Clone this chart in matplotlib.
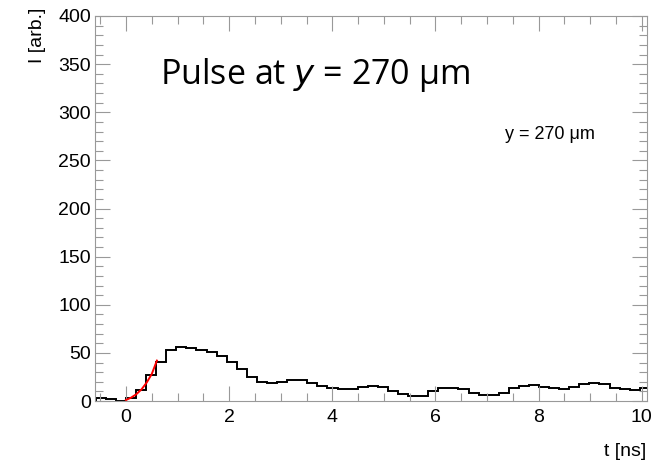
import numpy as np
import matplotlib.pyplot as plt
from matplotlib.ticker import MultipleLocator

# digitizer sample width (ns) and the bin contents
bin_width = 0.1953
first_bin = -3
counts = [3.5, 1.7, 0.0,
          3.0, 11.0, 26.5, 41.0, 53.0, 56.0, 55.5, 53.0, 50.5, 47.0,
          40.4, 33.5, 25.2, 20.0, 18.3, 19.3, 22.0, 22.0, 18.5, 16.0,
          14.0, 12.8, 12.8, 15.0, 15.5, 15.0, 10.2, 7.2, 5.0, 5.6,
          10.5, 13.2, 13.6, 12.0, 8.6, 5.9, 5.9, 8.6, 13.4, 15.5,
          16.2, 14.5, 13.8, 12.8, 14.5, 18.0, 18.6, 17.3, 13.8, 12.0,
          11.0, 13.4]

# rising-edge fit (red)
fit_t = [0.0, 0.1, 0.2, 0.3, 0.4, 0.5, 0.6]
fit_y = [1.0, 3.5, 7.0, 12.0, 19.0, 28.0, 42.0]

edges = (first_bin + np.arange(len(counts) + 1)) * bin_width

fig = plt.figure(figsize=(6.64, 4.67), dpi=100)
ax = fig.add_axes([95/664, 1 - 401/467, 552/664, 385/467])

ax.stairs(counts, edges, color="black", linewidth=1.4)
ax.plot(fit_t, fit_y, color="red", linewidth=1.4)

ax.set_xlim(-0.6, 10.1)
ax.set_ylim(0, 400)

ax.xaxis.set_major_locator(MultipleLocator(2))
ax.xaxis.set_minor_locator(MultipleLocator(0.5))
ax.yaxis.set_major_locator(MultipleLocator(50))
ax.yaxis.set_minor_locator(MultipleLocator(10))

tick_font = {"family": "Liberation Sans", "size": 14}
ax.tick_params(which="both", direction="in", top=True, right=True,
               color="#999999", width=0.8)
ax.tick_params(which="major", length=11)
ax.tick_params(which="minor", length=6)
ax.tick_params(axis="y", pad=3)
ax.tick_params(axis="x", pad=6)
for lab in ax.get_xticklabels() + ax.get_yticklabels():
    lab.set_fontfamily("Liberation Sans")
    lab.set_fontsize(14)
for s in ax.spines.values():
    s.set_color("#999999")
    s.set_linewidth(0.8)

fig.text(37/664, 1 - 8/467, "I [arb.]", rotation=90, ha="center", va="top",
         **tick_font)
fig.text(646/664, 1 - 452/467, "t [ns]", ha="right", va="center", **tick_font)

ax.text(0.743, 0.693, "y = 270 \u03bcm", transform=ax.transAxes,
        ha="left", va="center", family="Liberation Sans", size=13)

ax.text(0.117, 0.848, "Pulse at $\\it{y}$ = 270 \u00b5m", transform=ax.transAxes,
        ha="left", va="center", family="Open Sans", size=24.5)

fig.savefig("out.png", dpi=100)
